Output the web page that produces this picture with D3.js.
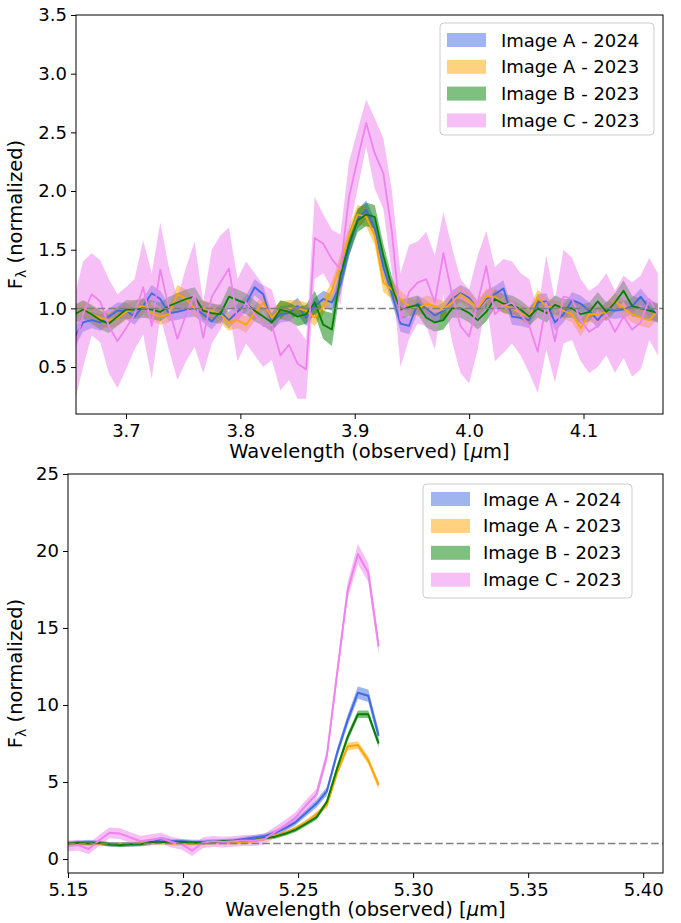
<!DOCTYPE html>
<html><head><meta charset="utf-8">
<script src="https://cdn.jsdelivr.net/npm/d3@7"></script>
<style>
body{margin:0;background:#fff}
svg text{font-family:"DejaVu Sans",sans-serif;fill:#000}
</style></head>
<body>
<svg id="chart" width="681" height="923"></svg>
<script>
// ---------- data ----------
const seriesNames = ["Image A - 2024", "Image A - 2023", "Image B - 2023", "Image C - 2023"];
const seriesColors = ["royalblue", "orange", "green", "violet"];

// top panel (observed wavelength, micron)
const waveTop = [3.655,3.6625,3.670,3.6775,3.685,3.6925,3.700,3.7075,3.715,3.7225,3.730,3.7375,3.745,3.7525,3.760,3.7675,3.775,3.7825,3.790,3.7975,3.805,3.8125,3.820,3.8275,3.835,3.8425,3.850,3.8575,3.865,3.8725,3.880,3.8875,3.895,3.9025,3.910,3.9175,3.925,3.9325,3.940,3.9475,3.955,3.9625,3.970,3.9775,3.985,3.9925,4.000,4.0075,4.015,4.0225,4.030,4.0375,4.045,4.0525,4.060,4.0675,4.075,4.0825,4.090,4.0975,4.105,4.1125,4.120,4.1275,4.135,4.1425,4.150,4.1575,4.165];
const fluxTopA24 = [0.75,0.88,0.90,0.88,0.93,0.98,0.98,0.93,1.02,1.13,1.08,0.96,0.97,0.99,1.00,0.95,0.89,0.97,0.90,0.97,1.04,1.18,1.12,0.88,0.95,0.96,1.02,0.92,1.02,1.08,1.05,1.20,1.52,1.76,1.84,1.68,1.35,1.12,0.87,0.85,1.04,1.00,0.94,0.98,1.08,1.13,1.09,0.99,1.08,1.12,1.17,0.93,0.92,0.90,1.05,1.06,0.88,0.95,1.07,1.04,0.98,0.90,0.99,0.98,0.99,1.02,1.10,1.00,0.96];
const errTopA24 = [0.08,0.08,0.07,0.07,0.07,0.07,0.07,0.07,0.07,0.07,0.07,0.07,0.07,0.07,0.07,0.07,0.07,0.07,0.07,0.07,0.07,0.07,0.07,0.07,0.07,0.07,0.07,0.07,0.07,0.07,0.07,0.08,0.08,0.08,0.08,0.08,0.08,0.07,0.07,0.07,0.07,0.07,0.07,0.07,0.07,0.07,0.07,0.07,0.07,0.07,0.07,0.07,0.07,0.07,0.07,0.07,0.07,0.07,0.07,0.07,0.07,0.07,0.07,0.07,0.07,0.07,0.07,0.08,0.08];
const fluxTopA23 = [0.95,1.00,0.95,0.92,0.90,0.92,0.97,1.00,1.02,0.96,0.93,0.95,1.12,1.08,1.00,1.00,0.98,0.95,0.88,0.90,0.86,0.96,1.05,0.92,0.99,1.00,1.00,0.98,0.92,1.02,1.15,1.38,1.62,1.80,1.78,1.62,1.22,1.16,1.08,1.02,1.00,1.04,1.02,0.99,1.05,1.12,1.07,1.00,1.10,1.10,1.03,1.00,0.96,0.93,1.09,1.02,1.00,0.98,0.95,0.83,0.95,0.95,0.97,1.06,1.00,0.95,0.92,0.90,0.98];
const errTopA23 = [0.07,0.07,0.07,0.07,0.07,0.07,0.07,0.07,0.07,0.07,0.07,0.07,0.08,0.08,0.07,0.07,0.07,0.07,0.07,0.07,0.07,0.07,0.07,0.07,0.07,0.07,0.07,0.07,0.07,0.07,0.08,0.08,0.08,0.08,0.08,0.08,0.08,0.08,0.07,0.07,0.07,0.07,0.07,0.07,0.07,0.07,0.07,0.07,0.07,0.07,0.07,0.07,0.07,0.07,0.07,0.07,0.07,0.07,0.07,0.07,0.07,0.07,0.07,0.07,0.07,0.07,0.07,0.07,0.07];
const fluxTopB23 = [0.95,0.99,0.95,0.90,0.87,0.93,0.99,0.99,1.00,0.99,0.97,1.02,1.05,1.08,1.10,0.98,0.96,0.95,1.10,1.07,1.04,0.98,0.93,0.88,0.99,0.97,0.93,0.95,1.05,0.86,0.82,1.28,1.55,1.75,1.80,1.78,1.45,1.18,0.99,1.01,1.03,0.92,0.88,0.90,1.00,1.00,0.96,0.90,0.97,1.08,1.04,1.03,0.99,0.93,1.00,0.96,1.03,1.00,1.00,0.95,0.97,1.06,0.97,1.05,1.15,1.02,1.00,0.98,0.96];
const errTopB23 = [0.08,0.08,0.08,0.08,0.08,0.08,0.08,0.08,0.08,0.08,0.08,0.08,0.08,0.08,0.08,0.08,0.08,0.08,0.09,0.09,0.09,0.09,0.08,0.08,0.08,0.08,0.08,0.08,0.10,0.12,0.14,0.12,0.10,0.10,0.10,0.10,0.10,0.09,0.08,0.08,0.08,0.08,0.08,0.08,0.08,0.08,0.08,0.08,0.08,0.08,0.08,0.08,0.08,0.08,0.08,0.08,0.08,0.08,0.08,0.08,0.08,0.08,0.08,0.08,0.09,0.09,0.08,0.08,0.08];
const fluxTopC23 = [0.65,0.95,1.12,1.06,0.85,0.72,0.83,0.95,1.18,0.85,1.33,1.00,0.74,0.95,1.12,0.75,1.10,1.22,1.34,0.90,1.05,0.95,0.85,0.86,0.60,0.69,0.53,0.48,1.60,1.55,1.42,1.33,1.95,2.27,2.58,2.32,2.15,1.65,0.90,1.14,1.22,1.25,1.05,1.47,1.12,0.85,0.76,1.05,1.36,0.95,1.02,1.05,0.95,0.85,0.63,1.05,0.72,1.10,1.08,0.90,0.80,0.85,0.95,0.80,0.93,0.82,0.88,1.08,0.95];
const errTopC23 = [0.45,0.45,0.35,0.35,0.40,0.40,0.35,0.30,0.40,0.45,0.40,0.35,0.35,0.40,0.45,0.30,0.40,0.40,0.35,0.35,0.35,0.35,0.35,0.30,0.30,0.30,0.30,0.25,0.35,0.25,0.25,0.30,0.30,0.25,0.20,0.30,0.30,0.35,0.40,0.40,0.35,0.40,0.40,0.35,0.40,0.40,0.40,0.40,0.30,0.40,0.40,0.35,0.35,0.40,0.35,0.40,0.35,0.40,0.35,0.35,0.35,0.35,0.35,0.35,0.35,0.40,0.40,0.35,0.35];

// bottom panel
const waveBot = [5.1500,5.1545,5.1590,5.1635,5.1680,5.1725,5.1770,5.1815,5.1860,5.1905,5.1950,5.1995,5.2040,5.2085,5.2130,5.2175,5.2220,5.2265,5.2310,5.2355,5.2400,5.2445,5.2490,5.2535,5.2580,5.2625,5.2670,5.2715,5.2760,5.2805,5.2850];
const fluxBotA24 = [1.00,1.05,1.10,1.05,0.95,0.95,0.95,1.00,1.05,1.30,1.15,1.15,1.10,1.10,1.15,1.15,1.20,1.30,1.40,1.50,1.70,2.00,2.40,3.00,3.60,4.40,6.90,9.00,10.80,10.60,8.00];
const errBotA24 = [0.15,0.15,0.15,0.15,0.15,0.15,0.15,0.15,0.15,0.15,0.15,0.15,0.15,0.15,0.15,0.15,0.15,0.15,0.15,0.15,0.18,0.18,0.20,0.22,0.25,0.28,0.30,0.35,0.40,0.40,0.40];
const fluxBotA23 = [1.00,1.00,1.00,1.00,0.95,0.95,0.95,1.00,1.05,1.05,1.00,1.00,1.00,1.00,1.05,1.05,1.05,1.10,1.15,1.30,1.50,1.70,2.00,2.40,2.90,3.50,5.60,7.30,7.40,6.40,4.80];
const errBotA23 = [0.12,0.12,0.12,0.12,0.12,0.12,0.12,0.12,0.12,0.12,0.12,0.12,0.12,0.12,0.12,0.12,0.12,0.12,0.12,0.12,0.14,0.14,0.15,0.15,0.16,0.18,0.20,0.25,0.25,0.25,0.25];
const fluxBotB23 = [1.00,1.05,1.00,1.05,0.95,0.90,0.95,0.95,1.10,1.10,1.10,1.10,1.05,1.05,1.10,1.15,1.15,1.20,1.25,1.35,1.45,1.65,1.90,2.30,2.70,3.70,5.90,7.90,9.40,9.40,7.50];
const errBotB23 = [0.12,0.12,0.12,0.12,0.12,0.12,0.12,0.12,0.12,0.12,0.12,0.12,0.12,0.12,0.12,0.12,0.12,0.12,0.12,0.12,0.14,0.14,0.15,0.15,0.16,0.18,0.20,0.25,0.25,0.25,0.25];
const fluxBotC23 = [0.85,0.90,0.65,1.20,1.70,1.65,1.40,1.15,1.25,1.35,1.10,0.95,0.55,1.05,1.15,1.10,1.15,1.20,1.20,1.30,1.75,2.20,2.70,3.50,4.20,6.70,12.10,17.40,19.80,18.60,13.80];
const errBotC23 = [0.35,0.35,0.35,0.35,0.35,0.35,0.35,0.35,0.35,0.35,0.35,0.35,0.35,0.35,0.35,0.35,0.35,0.35,0.35,0.35,0.35,0.35,0.35,0.35,0.35,0.40,0.45,0.55,0.65,0.60,0.50];

const topYTicks = [0.5,1.0,1.5,2.0,2.5,3.0,3.5];
const topXTicks = [3.7,3.8,3.9,4.0,4.1];
const botYTicks = [0,5,10,15,20,25];
const botXTicks = [5.15,5.20,5.25,5.30,5.35,5.40];

// ---------- drawing ----------
const svg = d3.select("#chart");
const FS = 18;     // tick & legend text
const LFS = 19.5;  // axis labels

function panel(cfg){
  const g = svg.append("g");
  const x = d3.scaleLinear().domain(cfg.xDomain).range([cfg.left, cfg.right]);
  const y = d3.scaleLinear().domain(cfg.yDomain).range([cfg.bottom, cfg.top]);
  const clipId = "clip" + cfg.id;
  svg.append("clipPath").attr("id", clipId).append("rect")
    .attr("x", cfg.left).attr("y", cfg.top).attr("width", cfg.right-cfg.left).attr("height", cfg.bottom-cfg.top);
  const plot = g.append("g").attr("clip-path", `url(#${clipId})`);

  const pts = cfg.series.map(s => cfg.wave.map((w,i)=>({w, v:s.flux[i], e:s.err[i]})));
  // bands first (legend order), then lines on top
  pts.forEach((p,k) => {
    plot.append("path").datum(p)
      .attr("d", d3.area().x(d=>x(d.w)).y0(d=>y(d.v-d.e)).y1(d=>y(d.v+d.e)))
      .attr("fill", seriesColors[k]).attr("fill-opacity", 0.5).attr("stroke","none");
  });
  pts.forEach((p,k) => {
    plot.append("path").datum(p)
      .attr("d", d3.line().x(d=>x(d.w)).y(d=>y(d.v)))
      .attr("fill","none").attr("stroke", seriesColors[k]).attr("stroke-width", cfg.lw)
      .attr("stroke-linejoin","round");
  });
  // dashed unity line
  plot.append("line").attr("x1", cfg.left).attr("x2", cfg.right)
    .attr("y1", y(1)).attr("y2", y(1))
    .attr("stroke", "grey").attr("stroke-width", 1.5).attr("stroke-dasharray", "7.5,3.3");

  // axes
  const xa = g.append("g").attr("transform", `translate(0,${cfg.bottom})`)
    .call(d3.axisBottom(x).tickValues(cfg.xTicks).tickFormat(cfg.xFmt).tickSize(5).tickPadding(5));
  const ya = g.append("g").attr("transform", `translate(${cfg.left},0)`)
    .call(d3.axisLeft(y).tickValues(cfg.yTicks).tickFormat(cfg.yFmt).tickSize(5).tickPadding(4));
  [xa, ya].forEach(a => {
    a.select(".domain").remove();
    a.selectAll("text").style("font-size", FS+"px").style("font-family","DejaVu Sans").attr("fill","#000");
    a.selectAll("line").attr("stroke","#000").attr("stroke-width",1);
  });
  g.append("rect").attr("x", cfg.left).attr("y", cfg.top)
    .attr("width", cfg.right-cfg.left).attr("height", cfg.bottom-cfg.top)
    .attr("fill","none").attr("stroke","#000").attr("stroke-width",1);

  // x label
  const xl = g.append("text").attr("x", (cfg.left+cfg.right)/2).attr("y", cfg.bottom+cfg.xlabOff)
    .attr("text-anchor","middle").style("font-size", LFS+"px");
  xl.append("tspan").text("Wavelength (observed) [");
  xl.append("tspan").style("font-style","italic").text("μ");
  xl.append("tspan").text("m]");
  // y label
  const yl = g.append("text").attr("transform", `translate(${cfg.ylabX},${(cfg.top+cfg.bottom)/2}) rotate(-90)`)
    .attr("text-anchor","middle").style("font-size", LFS+"px");
  yl.append("tspan").text("F");
  yl.append("tspan").attr("dy", 4).style("font-size", "14px").text("λ");
  yl.append("tspan").attr("dy", -4).text(" (normalized)");

  // legend
  const L = cfg.legend;
  const lg = g.append("g");
  lg.append("rect").attr("x", L.x).attr("y", L.y).attr("width", L.w).attr("height", L.h)
    .attr("rx", 4).attr("fill","#fff").attr("fill-opacity",0.8).attr("stroke","#ccc").attr("stroke-width",1);
  seriesNames.forEach((n,k)=>{
    const cy = L.y + L.first + k*L.step;
    lg.append("rect").attr("x", L.x+L.sw).attr("y", cy-7).attr("width", 39).attr("height", 14)
      .attr("fill", seriesColors[k]).attr("fill-opacity",0.5);
    lg.append("text").attr("x", L.x+L.tx).attr("y", cy+6.5).style("font-size", FS+"px").text(n);
  });
}

const seriesTop = [
  {flux: fluxTopA24, err: errTopA24},
  {flux: fluxTopA23, err: errTopA23},
  {flux: fluxTopB23, err: errTopB23},
  {flux: fluxTopC23, err: errTopC23}
];
const seriesBot = [
  {flux: fluxBotA24, err: errBotA24},
  {flux: fluxBotA23, err: errBotA23},
  {flux: fluxBotB23, err: errBotB23},
  {flux: fluxBotC23, err: errBotC23}
];

panel({id:"top", left:76, right:663, top:15, bottom:414,
  xDomain:[3.6563,4.1695], yDomain:[0.1,3.5],
  wave: waveTop, series: seriesTop, lw:1.8,
  xTicks: topXTicks, yTicks: topYTicks, xFmt: d3.format(".1f"), yFmt: d3.format(".1f"),
  ylabX: 22, xlabOff: 43.5,
  legend:{x:440, y:23, w:214, h:112, first:17, step:26.8, sw:7, tx:61}
});
panel({id:"bot", left:68, right:663, top:474, bottom:873,
  xDomain:[5.15,5.4086], yDomain:[-0.91,25],
  wave: waveBot, series: seriesBot, lw:2,
  xTicks: botXTicks, yTicks: botYTicks, xFmt: d3.format(".2f"), yFmt: d3.format("d"),
  ylabX: 22, xlabOff: 43,
  legend:{x:423, y:484, w:209, h:114, first:15, step:26.9, sw:8, tx:60}
});
</script>
</body></html>
